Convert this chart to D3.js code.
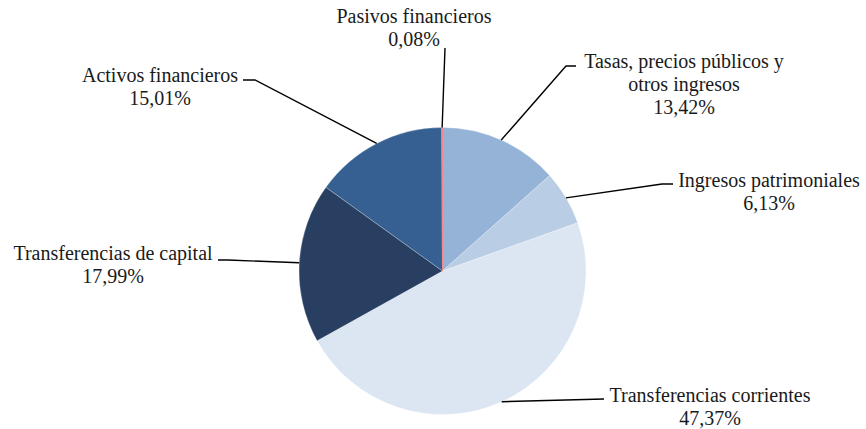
<!DOCTYPE html>
<html>
<head>
<meta charset="utf-8">
<script src="https://cdn.jsdelivr.net/npm/d3@7"></script>
<style>
  html, body { margin: 0; padding: 0; background: #ffffff; }
  svg { display: block; }
  text { font-family: "Liberation Serif", "Times New Roman", serif; fill: #1a1a1a; }
</style>
</head>
<body>
<svg id="chart" width="866" height="429"></svg>
<script>
// ---- data ----
const categories = [
  "Tasas, precios públicos y otros ingresos",
  "Ingresos patrimoniales",
  "Transferencias corrientes",
  "Transferencias de capital",
  "Activos financieros",
  "Pasivos financieros"
];
const values = [13.42, 6.13, 47.37, 17.99, 15.01, 0.08];
const labelLines = [
  ["Tasas, precios públicos y", "otros ingresos"],
  ["Ingresos patrimoniales"],
  ["Transferencias corrientes"],
  ["Transferencias de capital"],
  ["Activos financieros"],
  ["Pasivos financieros"]
];
const colors = ["#95b3d7", "#b9cde5", "#dce6f2", "#283f62", "#366092", "#f08a8a"];

// ---- layout (label anchors, leader elbows) ----
const labelPos = [
  {x: 684, y: 68},
  {x: 769, y: 187},
  {x: 710, y: 402},
  {x: 113, y: 260},
  {x: 160, y: 82},
  {x: 414, y: 23}
];
const leaderPts = [
  [[566, 66], [576, 66]],
  [[662, 184], [673, 184]],
  [[604, 399]],
  [[228, 260], [218, 260]],
  [[255, 80], [243, 80]],
  [[445, 48]]
];
const lineH = 23;

const cx = 442.5, cy = 271, R = 143.5;
const svg = d3.select("#chart");
const g = svg.append("g").attr("transform", `translate(${cx},${cy})`);

const pie = d3.pie().sort(null).value(d => d.v);
const arcs = pie(categories.map((c, i) => ({c, v: values[i], i})));
const arc = d3.arc().innerRadius(0).outerRadius(R);

g.selectAll("path.slice").data(arcs).join("path")
  .attr("class", "slice")
  .attr("d", arc)
  .attr("fill", d => colors[d.data.i])
  .attr("stroke", d => d.data.i === 5 ? colors[5] : "#ffffff")
  .attr("stroke-width", d => d.data.i === 5 ? 1 : 0.4)
  .attr("stroke-opacity", d => d.data.i === 5 ? 1 : 0.6);

// leader lines
const fmt = v => d3.format(".2f")(v).replace(".", ",") + "%";
arcs.forEach(d => {
  const i = d.data.i;
  const mid = (d.startAngle + d.endAngle) / 2;
  const start = [cx + R * Math.sin(mid), cy - R * Math.cos(mid)];
  const pts = [start].concat(leaderPts[i]);
  svg.append("path")
    .attr("d", d3.line()(pts))
    .attr("fill", "none")
    .attr("stroke", "#000")
    .attr("stroke-width", 1.4);
  const t = svg.append("text")
    .attr("text-anchor", "middle")
    .attr("font-size", 20);
  const lines = labelLines[i].concat([fmt(d.data.v)]);
  lines.forEach((s, k) => {
    t.append("tspan").attr("x", labelPos[i].x).attr("y", labelPos[i].y + k * lineH).text(s);
  });
});
</script>
</body>
</html>
